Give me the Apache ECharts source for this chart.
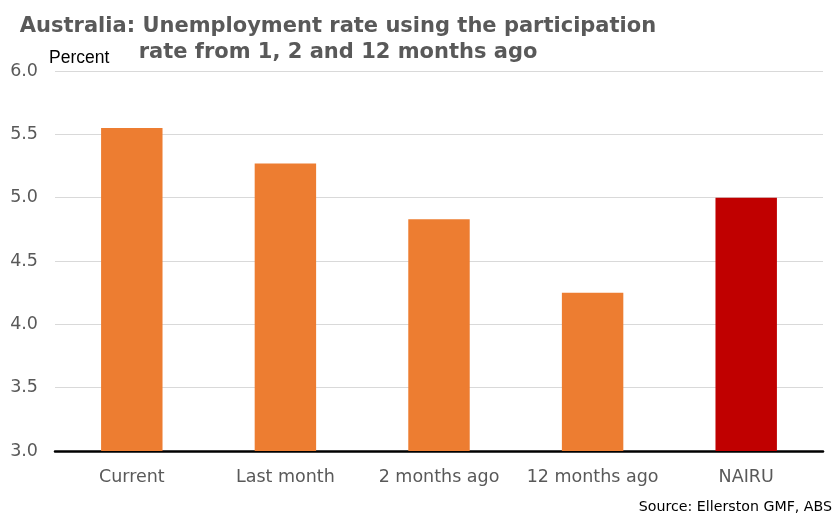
<!DOCTYPE html>
<html>
<head>
<meta charset="utf-8">
<script src="https://cdn.jsdelivr.net/npm/echarts@6/dist/echarts.min.js"></script>
<style>html,body{margin:0;padding:0;background:#fff}#c{width:834px;height:514px}</style>
</head>
<body>
<div id="c"></div>
<script>
const categories = ['Current', 'Last month', '2 months ago', '12 months ago', 'NAIRU'];
const values = [5.55, 5.27, 4.83, 4.25, 5.0];
const barColors = ['#ED7D31', '#ED7D31', '#ED7D31', '#ED7D31', '#C00000'];
const yTicks = [3.0, 3.5, 4.0, 4.5, 5.0, 5.5, 6.0];

const chart = echarts.init(document.getElementById('c'));
chart.setOption({
  animation: false,
  backgroundColor: '#fff',
  title: {
    text: 'Australia: Unemployment rate using the participation\nrate from 1, 2 and 12 months ago',
    left: 333,
    top: 9,
    textAlign: 'center',
    textStyle: {
      fontFamily: 'DejaVu Sans',
      fontWeight: 'bold',
      fontSize: 21,
      color: '#595959',
      lineHeight: 26
    }
  },
  graphic: [
    { type: 'text', left: 49, top: 49, style: { text: 'Percent', fontFamily: 'Liberation Sans', fontSize: 17.5, fill: '#000' } },
    { type: 'text', right: 2, top: 500, style: { text: 'Source: Ellerston GMF, ABS', fontFamily: 'DejaVu Sans', fontSize: 14.2, fill: '#000' } }
  ],
  grid: { left: 55, right: 11, top: 71, bottom: 63, containLabel: false },
  xAxis: {
    type: 'category',
    data: categories,
    axisLine: { show: true, lineStyle: { color: '#000', width: 2.5 } },
    axisTick: { show: false },
    axisLabel: { color: '#595959', fontFamily: 'DejaVu Sans', fontSize: 17.5, margin: 17, interval: 0 }
  },
  yAxis: {
    type: 'value',
    min: yTicks[0],
    max: yTicks[yTicks.length - 1],
    interval: 0.5,
    axisLine: { show: false },
    axisTick: { show: false },
    splitLine: { lineStyle: { color: '#D9D9D9', width: 1 } },
    axisLabel: { color: '#595959', fontFamily: 'DejaVu Sans', fontSize: 17.5, margin: 17, formatter: v => v.toFixed(1) }
  },
  series: [{
    type: 'bar',
    data: values.map((v, i) => ({ value: v, itemStyle: { color: barColors[i] } })),
    barWidth: '40%'
  }]
});
</script>
</body>
</html>
